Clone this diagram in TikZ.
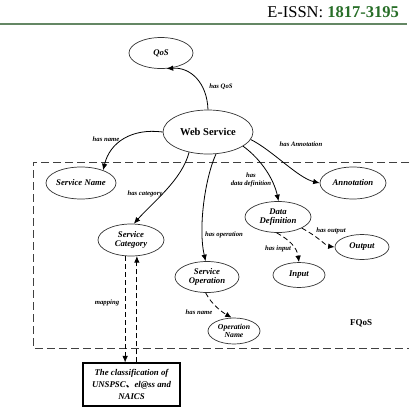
\documentclass[tikz,border=0pt]{standalone}
\usepackage{fontspec}
\setmainfont{Liberation Serif}
\newfontfamily\cjkfont{Noto Sans CJK SC}
\usetikzlibrary{shapes.geometric,arrows.meta}
\definecolor{hgreen}{RGB}{40,110,40}
\definecolor{hline}{RGB}{100,135,100}
\begin{document}
\begin{tikzpicture}[x=1pt,y=-1pt,
  el/.style={ellipse,draw=black!80,line width=0.7pt,inner sep=0pt,align=center,
    font=\fontsize{8.7}{9.7}\selectfont\bfseries\itshape},
  lab/.style={inner sep=0pt,align=center,font=\fontsize{6.7}{7.8}\selectfont\bfseries\itshape},
  arr/.style={line width=0.8pt,-{Latex[length=6.5pt,width=5.5pt]}},
  dsh/.style={dash pattern=on 5pt off 3pt},
  frame/.style={line width=0.9pt,black!75,dash pattern=on 8pt off 4pt},
  clsbox/.style={draw,line width=1.1pt,minimum width=97pt,minimum height=43pt,inner sep=0pt,align=center,
    font=\fontsize{8.8}{12}\selectfont\bfseries\itshape}]
\useasboundingbox (0,0) rectangle (410,408);
% header
\node[anchor=base east,inner sep=0pt,font=\fontsize{16.5}{18}\selectfont] (hdr) at (399,17) {E-ISSN: \textcolor{hgreen}{\textbf{1817-3195}}};
\draw[hline,line width=1.1pt] (0,24) -- (407,24);
% frame
\draw[frame] (409,162) -- (33,162) -- (33,348) -- (409,348);
% nodes
\node[el,minimum width=64pt,minimum height=31pt] (qos) at (161,53) {QoS};
\node[el,minimum width=90pt,minimum height=44pt,font=\fontsize{10.5}{12}\selectfont\bfseries] (ws) at (208,132) {Web Service};
\node[el,minimum width=65pt,minimum height=32pt] (sn) at (81,183) {Service Name};
\node[el,minimum width=66pt,minimum height=32pt] (sc) at (131,240) {Service\\Category};
\node[el,minimum width=64pt,minimum height=31pt] (so) at (207,277) {Service\\Operation};
\node[el,minimum width=66pt,minimum height=31pt] (dd) at (278,217) {Data\\Definition};
\node[el,minimum width=66pt,minimum height=32pt] (an) at (353,183) {Annotation};
\node[el,minimum width=54pt,minimum height=25pt] (out) at (362,247) {Output};
\node[el,minimum width=52pt,minimum height=25pt] (in) at (299,275) {Input};
\node[el,minimum width=52pt,minimum height=26pt,font=\fontsize{7.7}{8.7}\selectfont\bfseries\itshape] (on) at (234,331) {Operation\\Name};
\node[clsbox] (cls) at (131.5,384.5) {The classification of\\UNSPSC{\cjkfont 、}el@ss and\\NAICS};
% labels
\node[lab] (l1) at (221,87) {has QoS};
\node[lab] (l2) at (106,139) {has name};
\node[lab] (l3) at (301,144) {has Annotation};
\node[lab] (l4) at (145,194) {has category};
\node[lab] (l5) at (224,235) {has operation};
\node[lab] (l6) at (251,180) {has\\data definition};
\node[lab] (l7) at (331,231) {has output};
\node[lab] (l8) at (278,249) {has input};
\node[lab] (l9) at (199,312) {has name};
\node[lab] (l10) at (107,303) {mapping};
\node[inner sep=0pt,font=\fontsize{9}{10}\selectfont\bfseries] (fq) at (361,323) {FQoS};
% connectors
\draw[arr] (ws.north) .. controls (207,82) and (190,67) .. (qos.-70);
\draw[arr] (ws.west) .. controls (132,128) and (110,142) .. (sn.30);
\draw[arr] (ws.-133) .. controls (182,180) and (152,203) .. (sc.80);
\draw[arr] (ws.-70) .. controls (205,178) and (198,228) .. (so.95);
\draw[arr] (ws.-22) .. controls (262,160) and (274,180) .. (dd.88);
\draw[arr] (ws.-10) .. controls (272,150) and (298,178) .. (an.west);
\draw[arr,dsh] (dd.-25) .. controls (320,238) and (326,246) .. (out.west);
\draw[arr,dsh] (dd.-95) .. controls (290,240) and (297,248) .. (in.north);
\draw[arr,dsh] (so.-95) .. controls (212,305) and (222,312) .. (on.100);
\draw[arr,dsh] (sc.-110) -- (sc.-110 |- cls.north);
\draw[arr,dsh] (sc.-70 |- cls.north) -- (sc.-70);
\end{tikzpicture}
\end{document}
